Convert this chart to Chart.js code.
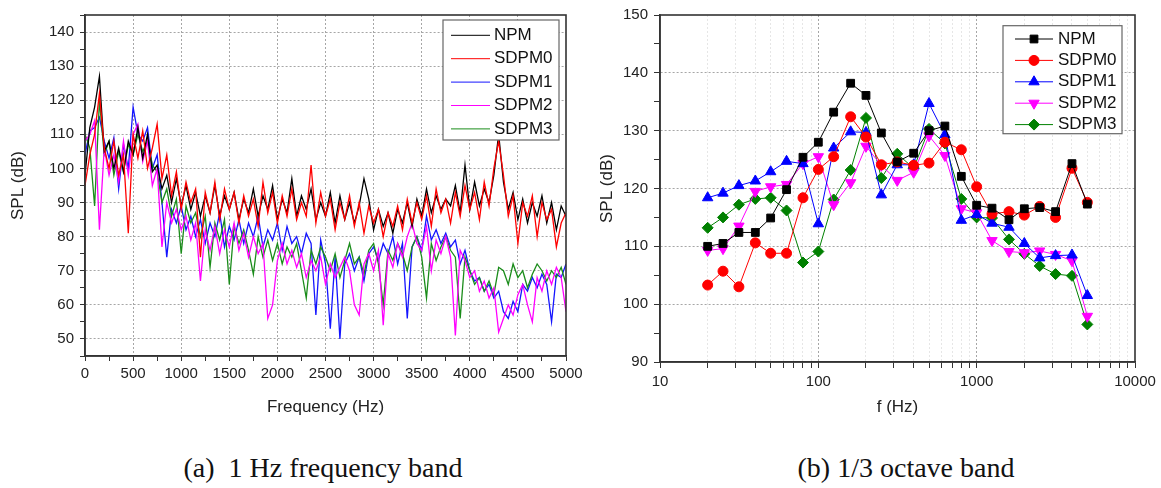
<!DOCTYPE html>
<html>
<head>
<meta charset="utf-8">
<script src="https://cdn.jsdelivr.net/npm/chart.js@4.4.1/dist/chart.umd.min.js"></script>
<style>
body { margin: 0; background: #fff; width: 1161px; height: 488px; position: relative; overflow: hidden; }
#c1 { position: absolute; left: 0; top: 0; }
#c2 { position: absolute; left: 590px; top: 0; }
.cap { position: absolute; top: 454px; line-height: 28px; font-family: 'Liberation Serif', 'Times New Roman', serif;
       font-size: 28px; white-space: pre; color: #111; transform: translateX(-50%); }
</style>
</head>
<body>
<canvas id="c1" width="590" height="420"></canvas>
<canvas id="c2" width="571" height="420"></canvas>
<div class="cap" style="left:323px">(a)  1 Hz frequency band</div>
<div class="cap" style="left:906px">(b) 1/3 octave band</div>
<script>
var stepHz = 50
var npmA = [98,112,118,127,105,108,100,106,99,108,
  104,112,103,110,99,101,94,98,90,97,
  89,95,88,93,86,92,87,95,86,92,
  88,93,85,91,87,94,86,92,88,95,
  85,91,87,97,86,92,88,94,85,90,
  86,93,84,92,85,90,84,89,97,91,
  82,88,83,87,81,88,84,90,83,91,
  86,94,87,92,88,91,89,95,87,101,
  88,96,89,94,90,98,110,96,88,93,
  85,91,84,90,86,92,84,90,82,89,
  86]
var sdpm0A = [95,104,110,122,106,100,108,98,104,81,
  110,103,111,100,106,113,97,104,92,99,
  88,96,90,94,74,93,87,96,85,94,
  88,93,84,92,86,91,83,96,87,93,
  84,92,86,94,85,90,86,101,84,93,
  86,91,82,90,85,92,83,90,81,89,
  84,88,80,87,83,89,82,91,84,90,
  85,92,83,94,87,91,84,93,86,95,
  88,93,85,96,89,100,108,98,86,92,
  78,90,86,92,80,90,85,88,77,84,
  87]
var sdpm1A = [104,111,112,115,108,103,109,94,107,100,
  118,110,108,112,100,104,90,74,88,84,
  89,82,86,80,85,78,84,80,87,77,
  83,79,85,78,84,80,86,77,82,79,
  84,76,83,78,80,75,81,78,57,79,
  72,53,74,50,72,75,70,74,67,75,
  77,73,78,75,80,72,78,56,77,80,
  76,86,79,82,78,81,77,79,72,76,
  70,67,68,64,66,62,64,58,56,61,
  58,66,64,68,65,69,66,55,69,68,
  72]
var sdpm2A = [108,110,114,82,106,98,104,96,108,98,
  110,113,102,108,95,100,77,90,84,88,
  82,86,79,84,67,82,76,83,75,82,
  77,84,76,81,74,80,75,78,56,60,
  73,78,72,76,71,75,68,73,70,74,
  66,72,68,71,74,70,60,57,72,75,
  70,76,54,75,71,78,74,80,84,78,
  76,83,70,79,75,80,74,51,76,73,
  68,70,64,67,62,65,52,56,60,57,
  63,66,60,55,68,64,70,66,71,68,
  58]
var sdpm3A = [110,106,89,120,104,108,98,105,99,107,
  104,110,105,108,101,99,90,94,86,91,
  75,89,84,87,80,86,71,84,79,85,
  66,83,78,82,76,69,80,74,79,73,
  78,72,77,74,78,70,62,76,72,77,
  74,70,75,68,73,78,72,74,69,76,
  78,72,60,76,73,78,75,70,77,80,
  74,62,78,73,77,80,76,74,56,74,
  70,66,68,64,67,63,71,70,66,72,
  68,70,65,69,72,70,67,70,68,71,
  66]

// ---- (b) 1/3 octave band
var bands = [20,25,31.5,40,50,63,80,100,125,160,200,250,315,400,500,630,800,1000,1250,1600,2000,2500,3150,4000,5000]
var npmB = [110.0,110.5,112.4,112.4,114.9,119.8,125.4,128.0,133.2,138.2,136.1,129.6,124.6,126.1,130.0,130.8,122.1,117.1,116.6,114.6,116.5,116.7,116.0,124.3,117.3]
var sdpm0B = [103.3,105.7,103.0,110.6,108.8,108.8,118.4,123.3,125.5,132.4,128.9,124.1,124.6,124.0,124.4,128.0,126.7,120.3,115.6,116.0,115.4,116.9,115.0,123.5,117.6]
var sdpm1B = [118.4,119.2,120.5,121.3,122.9,124.7,124.3,113.9,127.0,129.8,129.7,118.9,124.1,124.1,134.7,129.3,114.5,115.5,114.0,113.3,110.5,108.0,108.4,108.5,101.5]
var sdpm2B = [109.3,109.6,113.5,119.5,120.3,120.7,124.3,125.5,117.2,121.0,127.3,124.0,121.4,122.8,129.1,125.7,116.5,115.8,111.0,109.1,108.9,109.2,108.6,107.5,97.9]
var sdpm3B = [113.2,115.0,117.2,118.2,118.4,116.2,107.2,109.1,118.1,123.2,132.2,121.8,126.0,123.5,130.3,127.8,118.2,115.0,114.9,111.2,108.7,106.6,105.2,104.9,96.5]

var names = ['NPM', 'SDPM0', 'SDPM1', 'SDPM2', 'SDPM3']
var colorsA = ['#000000', '#ff0000', '#1414ff', '#ff00ff', '#1a8c1a']
var colorsB = ['#000000', '#ff0000', '#0000ff', '#ff00ff', '#008000']
var gridDark = '#a6a6a6'

Chart.defaults.font.family = "'Liberation Sans', Arial, sans-serif"
Chart.defaults.font.size = 15
Chart.defaults.color = '#222'

// box round the plot area
var framePlugin = {
  id: 'frame',
  afterDraw: function (chart) {
    var ctx = chart.ctx, a = chart.chartArea
    ctx.save()
    ctx.strokeStyle = '#333'
    ctx.lineWidth = 1.6
    ctx.strokeRect(a.left, a.top, a.right - a.left, a.bottom - a.top)
    ctx.restore()
  }
}

// legend drawn inside the plot, top right
var boxLegend = {
  id: 'boxLegend',
  afterDraw: function (chart, args, o) {
    var ctx = chart.ctx, a = chart.chartArea
    var x0 = a.right - o.right - o.width, y0 = a.top + o.top
    ctx.save()
    ctx.fillStyle = '#fff'
    ctx.fillRect(x0, y0, o.width, o.height)
    ctx.strokeStyle = '#666'
    ctx.lineWidth = 1.2
    ctx.strokeRect(x0, y0, o.width, o.height)
    ctx.font = o.font
    ctx.textBaseline = 'middle'
    chart.data.datasets.forEach(function (ds, i) {
      var y = y0 + o.firstRow + i * o.rowGap
      ctx.strokeStyle = ds.borderColor
      ctx.lineWidth = 1
      ctx.beginPath()
      ctx.moveTo(x0 + o.lineStart, y)
      ctx.lineTo(x0 + o.lineStart + o.lineLen, y)
      ctx.stroke()
      if (o.markers && Chart.helpers && Chart.helpers.drawPoint) {
        ctx.fillStyle = ds.backgroundColor
        Chart.helpers.drawPoint(ctx, {
          pointStyle: ds.pointStyle, radius: ds.pointRadius,
          rotation: ds.pointRotation || 0, borderWidth: 1
        }, x0 + o.lineStart + o.lineLen / 2, y)
      }
      ctx.fillStyle = '#111'
      ctx.fillText(ds.label, x0 + o.textX, y)
    })
    ctx.restore()
  }
}

function toXY(xs, ys) {
  return ys.map(function (v, i) { return { x: xs[i], y: v } })
}

// ---------- chart (a)
var freqA = npmA.map(function (v, i) { return i * stepHz })
var seriesA = [npmA, sdpm0A, sdpm1A, sdpm2A, sdpm3A]
var drawOrderA = [1, 0, 4, 2, 3]

new Chart(document.getElementById('c1'), {
  type: 'line',
  data: {
    datasets: seriesA.map(function (s, i) {
      return {
        label: names[i], data: toXY(freqA, s), borderColor: colorsA[i], backgroundColor: colorsA[i],
        borderWidth: 1.3, pointRadius: 0, tension: 0, order: drawOrderA[i]
      }
    })
  },
  options: {
    responsive: false, animation: false,
    layout: { padding: { left: 0, right: 24, top: 10, bottom: 0 } },
    plugins: {
      legend: { display: false }, tooltip: { enabled: false },
      boxLegend: { right: 7, top: 5, width: 116, height: 120, firstRow: 15.3, rowGap: 23.4,
        lineStart: 8, lineLen: 39, textX: 51, font: "17px 'Liberation Sans', Arial, sans-serif", markers: false }
    },
    scales: {
      x: {
        type: 'linear', min: 0, max: 5000,
        afterFit: function (s) { s.height = 64 },
        title: { display: true, text: 'Frequency (Hz)', font: { size: 17 }, padding: { top: 0, bottom: 2 } },
        ticks: { stepSize: 250, autoSkip: false, maxRotation: 0, padding: 4,
          callback: function (v) { return v % 500 === 0 ? v : '' } },
        grid: {
          color: function (c) { var v = c.tick && c.tick.value; return (v % 500 === 0 && v > 0 && v < 5000) ? gridDark : 'rgba(0,0,0,0)' },
          tickColor: '#333', tickLength: 5, lineWidth: 1
        },
        border: { color: '#333', width: 1.6, dash: [2, 2] }
      },
      y: {
        min: 45, max: 145,
        afterFit: function (s) { s.width = 85 },
        title: { display: true, text: 'SPL (dB)', font: { size: 17 }, padding: { top: 8, bottom: 0 } },
        ticks: { stepSize: 5, autoSkip: false, padding: 6,
          callback: function (v) { return (v % 10 === 0) ? v : '' } },
        grid: {
          color: function (c) { var v = c.tick && c.tick.value; return (v % 10 === 0 && v > 45 && v < 145) ? gridDark : 'rgba(0,0,0,0)' },
          tickColor: '#333', tickLength: 5, lineWidth: 1
        },
        border: { color: '#333', width: 1.6, dash: [2, 2] }
      }
    }
  },
  plugins: [framePlugin, boxLegend]
})

// ---------- chart (b)
var seriesB = [npmB, sdpm0B, sdpm1B, sdpm2B, sdpm3B]
var stylesB = ['rect', 'circle', 'triangle', 'triangle', 'rectRot']
var radiiB = [5.5, 5, 6, 6, 5.5]
var rotB = [0, 0, 0, 180, 0]

function isDecade(v) { return [10, 100, 1000, 10000].indexOf(v) >= 0 }
function isWholeStep(v) {
  var p = Math.pow(10, Math.floor(Math.log10(v) + 1e-9))
  return Math.abs(v / p - Math.round(v / p)) < 1e-6
}

new Chart(document.getElementById('c2'), {
  type: 'line',
  data: {
    datasets: seriesB.map(function (s, i) {
      return {
        label: names[i], data: toXY(bands, s), borderColor: colorsB[i], backgroundColor: colorsB[i],
        borderWidth: 1, pointStyle: stylesB[i], pointRadius: radiiB[i], pointRotation: rotB[i],
        pointBorderWidth: 1, tension: 0
      }
    })
  },
  options: {
    responsive: false, animation: false,
    layout: { padding: { left: 0, right: 26, top: 12, bottom: 0 } },
    plugins: {
      legend: { display: false }, tooltip: { enabled: false },
      boxLegend: { right: 13, top: 10.7, width: 119, height: 108, firstRow: 13.3, rowGap: 21.4,
        lineStart: 12, lineLen: 38, textX: 55, font: "17px 'Liberation Sans', Arial, sans-serif", markers: true }
    },
    scales: {
      x: {
        type: 'logarithmic', min: 10, max: 10000,
        afterFit: function (s) { s.height = 58 },
        title: { display: true, text: 'f (Hz)', font: { size: 17 }, padding: { top: 0, bottom: 2 } },
        ticks: { autoSkip: false, maxRotation: 0, padding: 5,
          callback: function (v) { return isDecade(v) ? v : '' } },
        grid: {
          color: function (c) {
            var v = c.tick && c.tick.value
            if (!v || v <= 10 || v >= 10000 || !isWholeStep(v)) return 'rgba(0,0,0,0)'
            return isDecade(v) ? gridDark : '#e6e6e6'
          },
          tickColor: function (c) {
            var v = c.tick && c.tick.value
            return (v && isWholeStep(v)) ? '#333' : 'rgba(0,0,0,0)'
          },
          tickLength: 6, lineWidth: 1
        },
        border: { color: '#333', width: 1.6, dash: [2, 2] }
      },
      y: {
        min: 90, max: 150,
        afterFit: function (s) { s.width = 70 },
        title: { display: true, text: 'SPL (dB)', font: { size: 17 }, padding: { top: 7, bottom: 0 } },
        ticks: { stepSize: 5, autoSkip: false, padding: 6,
          callback: function (v) { return (v % 10 === 0) ? v : '' } },
        grid: {
          color: function (c) { var v = c.tick && c.tick.value; return (v % 10 === 0 && v > 90 && v < 150) ? gridDark : 'rgba(0,0,0,0)' },
          tickColor: '#333', tickLength: 6, lineWidth: 1
        },
        border: { color: '#333', width: 1.6, dash: [2, 2] }
      }
    }
  },
  plugins: [framePlugin, boxLegend]
})
</script>
</body>
</html>
